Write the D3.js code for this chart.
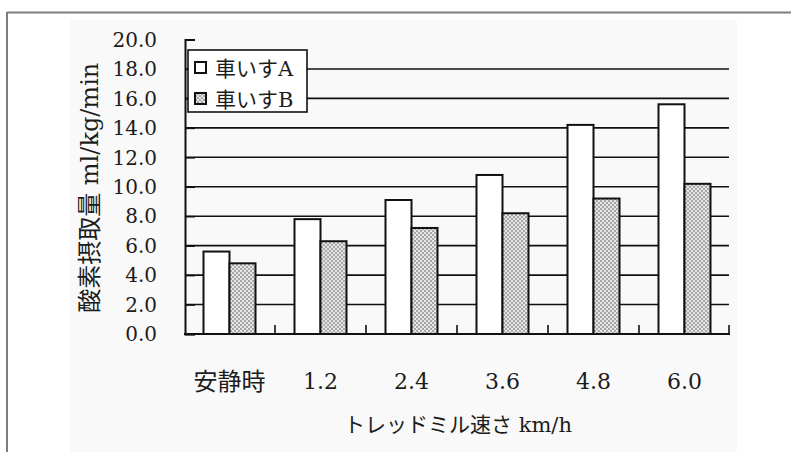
<!DOCTYPE html>
<html>
<head>
<meta charset="utf-8">
<script src="https://cdn.jsdelivr.net/npm/d3@7"></script>
<style>
  html, body { margin: 0; padding: 0; background: #ffffff; }
  svg { display: block; }
  text { font-family: "DejaVu Serif", "Noto Sans CJK JP", serif; fill: #1c1c1c; }
</style>
</head>
<body>
<svg id="chart" width="791" height="452"></svg>
<script>
// 車いす別・トレッドミル速度ごとの酸素摂取量
const categories = ["安静時", "1.2", "2.4", "3.6", "4.8", "6.0"];
const seriesNames = ["車いすA", "車いすB"];
const valuesA = [5.6, 7.8, 9.1, 10.8, 14.2, 15.6];
const valuesB = [4.8, 6.3, 7.2, 8.2, 9.2, 10.2];
const yTicks = [0, 2, 4, 6, 8, 10, 12, 14, 16, 18, 20];
const yTitle = "酸素摂取量 ml/kg/min";
const xTitle = "トレッドミル速さ km/h";

const rows = categories.map((c, i) => ({ cat: c, A: valuesA[i], B: valuesB[i] }));
const isCJK = s => /[\u3040-\u30ff\u4e00-\u9fff]/.test(s);

const svg = d3.select("#chart");

// page frame and light paper tone
svg.append("rect").attr("x", 70).attr("y", 20).attr("width", 667).attr("height", 432).attr("fill", "#f9f9f9");
svg.append("line").attr("x1", 7).attr("x2", 791).attr("y1", 12.5).attr("y2", 12.5)
  .attr("stroke", "#7d7d7d").attr("stroke-width", 2);
svg.append("line").attr("x1", 7).attr("x2", 7).attr("y1", 12).attr("y2", 452)
  .attr("stroke", "#7d7d7d").attr("stroke-width", 2);

// dotted fill for series B
const defs = svg.append("defs");
const pat = defs.append("pattern").attr("id", "dots").attr("patternUnits", "userSpaceOnUse")
  .attr("width", 4).attr("height", 4);
pat.append("rect").attr("width", 4).attr("height", 4).attr("fill", "#e6e6e6");
pat.append("circle").attr("cx", 1).attr("cy", 1).attr("r", 0.9).attr("fill", "#8a8a8a");
pat.append("circle").attr("cx", 3).attr("cy", 3).attr("r", 0.9).attr("fill", "#8a8a8a");

const plotLeft = 185, plotRight = 730, plotTop = 39.5, plotBottom = 334;

const y = d3.scaleLinear().domain([0, 20]).range([plotBottom, plotTop]);
const x0 = d3.scaleBand().domain(categories).range([plotLeft - 1, plotRight]).padding(0);
const x1 = d3.scaleBand().domain(["A", "B"]).range([19.5, 71.5]).padding(0);

// horizontal gridlines (none at the top value)
svg.append("g").selectAll("line")
  .data(yTicks.filter(t => t > 0 && t < 20))
  .join("line")
  .attr("x1", plotLeft).attr("x2", plotRight - 1)
  .attr("y1", d => y(d)).attr("y2", d => y(d))
  .attr("stroke", "#111").attr("stroke-width", 1.6);

// y axis with inward ticks
const yAxis = d3.axisRight(y).tickValues(yTicks).tickSize(10).tickFormat("");
const gy = svg.append("g").attr("transform", `translate(${plotLeft},0)`).call(yAxis);
gy.select(".domain").attr("stroke", "#111").attr("stroke-width", 2);
gy.selectAll(".tick line").attr("stroke", "#111").attr("stroke-width", 1.6);

// y tick labels
svg.append("g").selectAll("text")
  .data(yTicks)
  .join("text")
  .attr("x", 157).attr("y", d => y(d))
  .attr("dy", "0.36em")
  .attr("text-anchor", "end")
  .attr("font-size", 20)
  .text(d => d3.format(".1f")(d));

// bars
const groups = svg.append("g").selectAll("g")
  .data(rows)
  .join("g")
  .attr("transform", d => `translate(${x0(d.cat)},0)`);

groups.selectAll("rect")
  .data(d => [{ k: "A", v: d.A }, { k: "B", v: d.B }])
  .join("rect")
  .attr("x", d => x1(d.k))
  .attr("y", d => y(d.v))
  .attr("width", x1.bandwidth())
  .attr("height", d => plotBottom - y(d.v))
  .attr("fill", d => d.k === "A" ? "#ffffff" : "url(#dots)")
  .attr("stroke", "#111")
  .attr("stroke-width", 2);

// x axis: baseline with inward ticks at category boundaries
const boundaries = categories.slice(1).map(c => x0(c)).concat([plotRight - 1]);
svg.append("line").attr("x1", plotLeft - 1).attr("x2", plotRight).attr("y1", plotBottom).attr("y2", plotBottom)
  .attr("stroke", "#111").attr("stroke-width", 2);
svg.append("g").selectAll("line")
  .data(boundaries)
  .join("line")
  .attr("x1", d => d).attr("x2", d => d)
  .attr("y1", plotBottom).attr("y2", plotBottom - 9)
  .attr("stroke", "#111").attr("stroke-width", 1.6);

// category labels
svg.append("g").selectAll("text")
  .data(categories)
  .join("text")
  .attr("x", d => x0(d) + x0.bandwidth() / 2)
  .attr("y", 381)
  .attr("dy", "0.36em")
  .attr("text-anchor", "middle")
  .attr("font-size", d => isCJK(d) ? 24 : 22)
  .text(d => d);

// axis titles
svg.append("text")
  .attr("transform", `translate(89,${(plotTop + plotBottom) / 2 + 1}) rotate(-90)`)
  .attr("text-anchor", "middle")
  .attr("dy", "0.36em")
  .attr("font-size", 24)
  .text(yTitle);

svg.append("text")
  .attr("x", 458).attr("y", 424)
  .attr("dy", "0.36em")
  .attr("text-anchor", "middle")
  .attr("font-size", 21)
  .text(xTitle);

// legend
const lg = svg.append("g").attr("transform", "translate(188,50)");
lg.append("rect").attr("width", 119).attr("height", 62)
  .attr("fill", "#ffffff").attr("stroke", "#111").attr("stroke-width", 1.6);
const items = lg.selectAll("g.item")
  .data(seriesNames)
  .join("g").attr("class", "item")
  .attr("transform", (d, i) => `translate(7,${18 + i * 31})`);
items.append("rect")
  .attr("x", 0).attr("y", -6).attr("width", 11).attr("height", 11)
  .attr("fill", (d, i) => i === 0 ? "#ffffff" : "url(#dots)")
  .attr("stroke", "#111").attr("stroke-width", 2);
items.append("text")
  .attr("x", 20).attr("y", 0)
  .attr("dy", "0.36em")
  .attr("font-size", 21)
  .text(d => d);
</script>
</body>
</html>
